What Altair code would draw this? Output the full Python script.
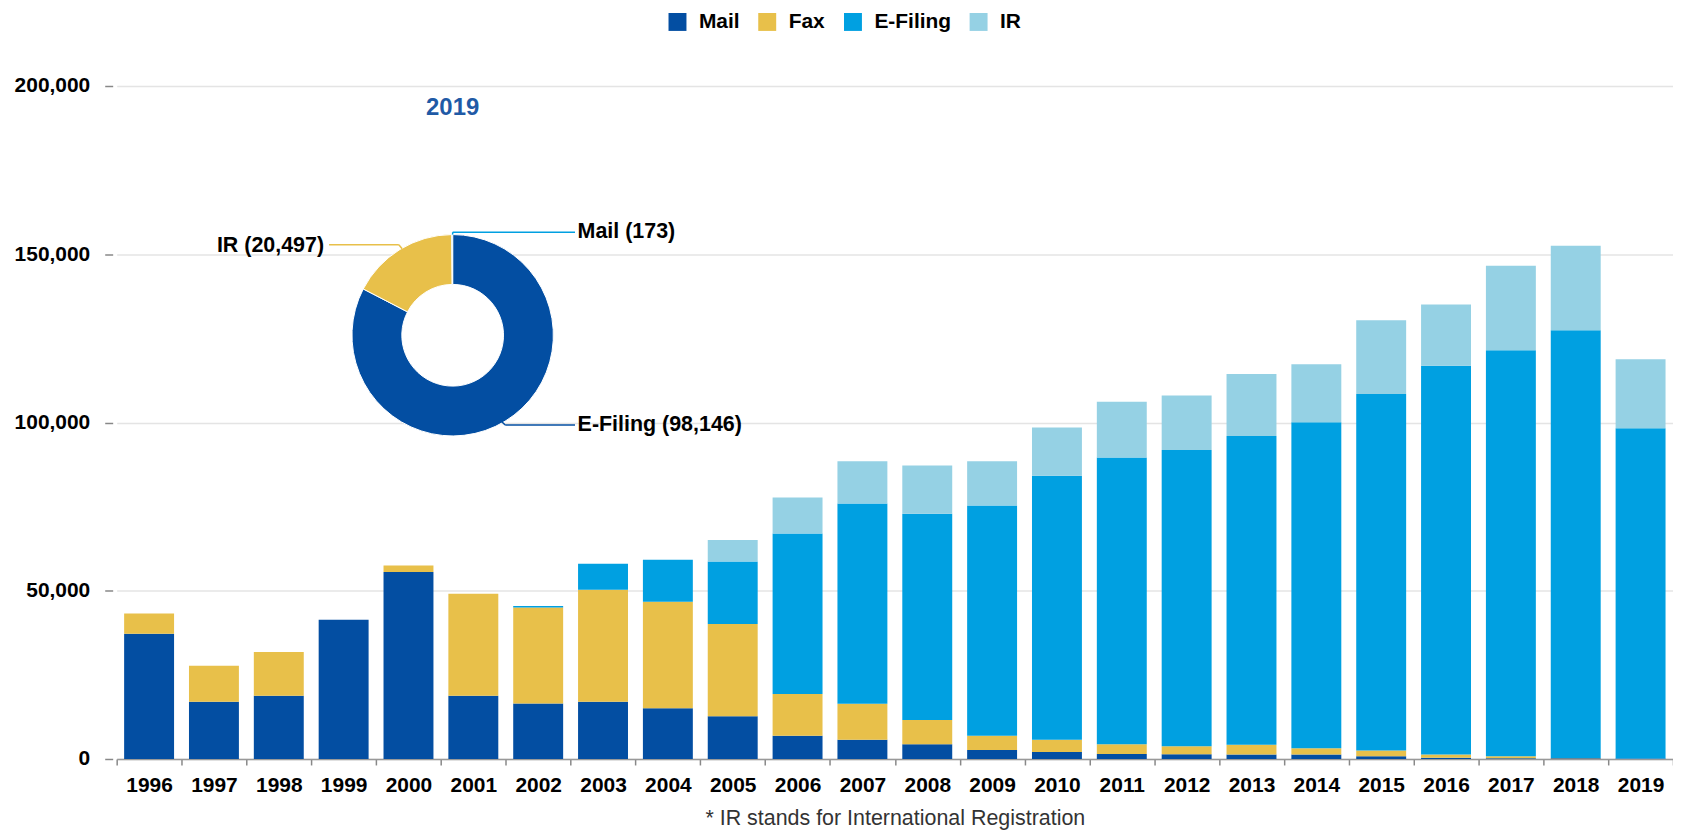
import altair as alt
import pandas as pd

years = [str(y) for y in range(1996, 2020)]
types = ["Mail", "Fax", "E-Filing", "IR"]
colors = ["#034EA2", "#E8C04A", "#00A0E1", "#95D1E4"]

mail = [37200, 17000, 18800, 41400, 55600, 18800, 16500, 17000, 15100, 12700, 6900, 5700,
        4400, 2700, 2100, 1500, 1400, 1300, 1300, 800, 400, 200, 200, 173]
fax = [6000, 10700, 13000, 0, 1900, 30300, 28500, 33300, 31600, 27400, 12400, 10700,
       7200, 4200, 3600, 2900, 2400, 2900, 1900, 1700, 900, 600, 100, 0]
efiling = [0, 0, 0, 0, 0, 0, 500, 7700, 12500, 18600, 47700, 59500,
           61300, 68400, 78500, 85200, 88000, 91800, 96900, 106000, 115600, 120700, 127100, 98146]
ir = [0, 0, 0, 0, 0, 0, 0, 0, 0, 6400, 10700, 12600,
      14300, 13200, 14300, 16600, 16200, 18400, 17200, 21900, 18200, 25100, 25100, 20497]

donut_year = "2019"
donut_names = ["E-Filing", "IR", "Mail"]
donut_values = [98146, 20497, 173]
donut_colors = ["#034EA2", "#E8C04A", "#00A0E1"]

footnote = "* IR stands for International Registration"
FONT = "Liberation Sans"

rows = []
for k, (t, series) in enumerate(zip(types, [mail, fax, efiling, ir])):
    for y, v in zip(years, series):
        rows.append({"year": y, "type": t, "value": v, "k": k})
df = pd.DataFrame(rows)

df_d = pd.DataFrame({"name": donut_names, "v": donut_values, "k": list(range(len(donut_names)))})

bars = alt.Chart(df).mark_bar(width=alt.RelativeBandSize(0.77)).encode(
    x=alt.X("year:N", sort=years, scale=alt.Scale(paddingInner=0, paddingOuter=0),
            axis=alt.Axis(title=footnote, labelAngle=0, tickBand="extent",
                          labelFont=FONT, labelFontSize=21, labelFontWeight="bold", labelColor="#000",
                          labelPadding=10, tickColor="#888", tickSize=6, tickWidth=1.5,
                          domainColor="#999", domainWidth=1.5,
                          titleFont=FONT, titleFontSize=21.5, titleFontWeight="normal",
                          titleColor="#333", titlePadding=12)),
    y=alt.Y("value:Q", stack="zero", scale=alt.Scale(domain=[0, 200000]),
            axis=alt.Axis(title=None, values=[0, 50000, 100000, 150000, 200000], format=",d",
                          labelFont=FONT, labelFontSize=21, labelFontWeight="bold", labelColor="#000",
                          labelPadding=15, tickColor="#888", tickSize=8, tickWidth=1.5, offset=4,
                          domain=False, grid=True, gridColor="#e4e4e4", gridWidth=1.5)),
    color=alt.Color("type:N", sort=types, scale=alt.Scale(domain=types, range=colors),
                    legend=alt.Legend(title=None, orient="none", legendX=552, legendY=-75,
                                      direction="horizontal", symbolType="square", symbolSize=324,
                                      symbolStrokeWidth=0, symbolOpacity=1,
                                      labelFont=FONT, labelFontSize=21, labelFontWeight="bold",
                                      labelColor="#000", labelOffset=11, columnPadding=17)),
    order=alt.Order("k:Q", sort="ascending"),
)

CX, CY = 337, 250
donut = alt.Chart(df_d).mark_arc(innerRadius=51, outerRadius=101, stroke="white", strokeWidth=1).encode(
    theta=alt.Theta("v:Q", stack=True),
    color=alt.Color("name:N", scale=alt.Scale(domain=donut_names, range=donut_colors), legend=None),
    order=alt.Order("k:Q", sort="ascending"),
    x=alt.value(CX), y=alt.value(CY),
)

one = pd.DataFrame({"a": [0]})


def seg(x1, y1, x2, y2, color):
    return alt.Chart(one).mark_rule(color=color, strokeWidth=1.5).encode(
        x=alt.value(x1), y=alt.value(y1), x2=alt.value(x2), y2=alt.value(y2))


def label(txt, x, y, align, size=21.5, color="#000", baseline="middle"):
    return alt.Chart(pd.DataFrame({"t": [txt]})).mark_text(
        align=align, baseline=baseline, font=FONT, fontSize=size, fontWeight="bold", color=color
    ).encode(text="t:N", x=alt.value(x), y=alt.value(y))


lab = {n: f"{n} ({v:,})" for n, v in zip(donut_names, donut_values)}

annots = [
    seg(213, 159.3, 283, 159.3, "#E8C04A"), seg(283, 159.3, 286.3, 163.3, "#E8C04A"),
    seg(337, 149, 337, 146.7, "#00A0E1"), seg(337, 146.7, 459.7, 146.7, "#00A0E1"),
    seg(386.3, 336.7, 389.7, 340, "#034EA2"), seg(389.7, 340, 459.7, 340, "#034EA2"),
    label(lab["IR"], 208, 160, "right"),
    label(lab["Mail"], 462.3, 146.7, "left"),
    label(lab["E-Filing"], 462.3, 340, "left"),
    label(donut_year, CX, 29, "center", size=24, color="#1F5AA6", baseline="alphabetic"),
]

chart = alt.layer(bars, donut, *annots).resolve_scale(color="independent").properties(
    width=1561, height=675,
    padding={"left": 109, "top": 77, "right": 0, "bottom": 73},
    autosize=alt.AutoSizeParams(type="none"),
).configure_view(stroke=None)

chart.save("out.html", embed_options={"renderer": "svg", "actions": False})
